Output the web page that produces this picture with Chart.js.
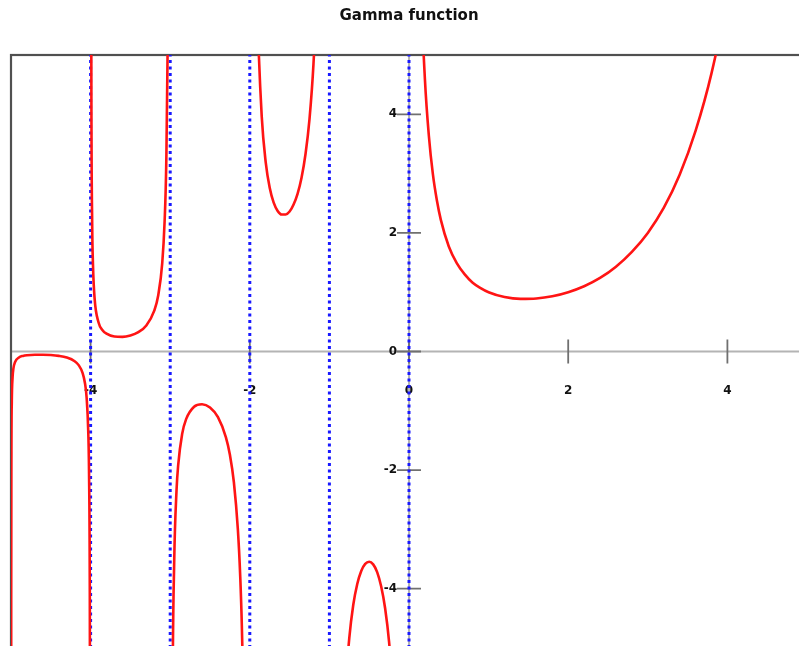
<!DOCTYPE html>
<html>
<head>
<meta charset="utf-8">
<title>Gamma function</title>
<script src="https://cdn.jsdelivr.net/npm/chart.js@4.4.1/dist/chart.umd.min.js"></script>
<style>
  html, body { margin: 0; padding: 0; background: #fff; overflow: hidden; }
  #wrap { position: absolute; left: 0; top: 0; width: 807px; height: 648px; }
</style>
</head>
<body>
<div id="wrap"><canvas id="gammaChart"></canvas></div>
<script>
// values, one array per branch between the poles
const branchA = [[-4.999, -8.3], [-4.998, -4.2], [-4.995, -1.69], [-4.99, -0.85], [-4.98, -0.43], [-4.97, -0.29],
  [-4.95, -0.18], [-4.9, -0.10], [-4.85, -0.074], [-4.8, -0.062], [-4.7, -0.054], [-4.6, -0.054], [-4.5, -0.060],
  [-4.4, -0.074], [-4.3, -0.102], [-4.2, -0.164], [-4.15, -0.23], [-4.1, -0.364], [-4.07, -0.54], [-4.05, -0.776],
  [-4.03, -1.33], [-4.02, -2.02], [-4.01, -4.1], [-4.005, -8.2]];
const branchB = [[-3.995, 8.4], [-3.99, 4.23], [-3.98, 2.15], [-3.97, 1.46], [-3.95, 0.90], [-3.9, 0.49],
  [-3.85, 0.36], [-3.8, 0.30], [-3.7, 0.252], [-3.6, 0.247], [-3.5, 0.270], [-3.4, 0.326], [-3.3, 0.439],
  [-3.2, 0.689], [-3.15, 0.95], [-3.1, 1.49], [-3.07, 2.2], [-3.05, 3.14], [-3.03, 5.36], [-3.02, 8.13]];
const branchC = [[-2.985, -11.3], [-2.97, -5.78], [-2.95, -3.56], [-2.92, -2.33], [-2.9, -1.92], [-2.85, -1.39],
  [-2.8, -1.14], [-2.7, -0.931], [-2.6, -0.889], [-2.5, -0.945], [-2.4, -1.108], [-2.3, -1.447], [-2.25, -1.74],
  [-2.2, -2.205], [-2.15, -3.0], [-2.12, -3.8], [-2.1, -4.63], [-2.07, -6.75], [-2.05, -9.58]];
const branchD = [[-1.98, 25.5], [-1.97, 17.2], [-1.95, 10.5], [-1.92, 6.79], [-1.9, 5.56], [-1.85, 3.96],
  [-1.8, 3.19], [-1.75, 2.76], [-1.7, 2.51], [-1.65, 2.37], [-1.6, 2.31], [-1.55, 2.31], [-1.5, 2.36],
  [-1.45, 2.48], [-1.4, 2.66], [-1.35, 2.93], [-1.3, 3.33], [-1.25, 3.92], [-1.2, 4.85], [-1.15, 6.45], [-1.1, 9.7]];
const branchE = [[-0.97, -33], [-0.95, -20.5], [-0.9, -10.57], [-0.85, -7.32], [-0.8, -5.74], [-0.75, -4.83],
  [-0.7, -4.27], [-0.65, -3.92], [-0.6, -3.70], [-0.55, -3.58], [-0.5, -3.545], [-0.45, -3.59], [-0.4, -3.72],
  [-0.35, -3.96], [-0.3, -4.33], [-0.25, -4.90], [-0.2, -5.82], [-0.15, -7.42], [-0.1, -10.69], [-0.05, -20.6]];
const branchF = [[0.03, 32.8], [0.05, 19.47], [0.1, 9.51], [0.15, 6.22], [0.2, 4.59], [0.25, 3.63], [0.3, 2.99],
  [0.35, 2.55], [0.4, 2.22], [0.5, 1.77], [0.6, 1.49], [0.7, 1.30], [0.8, 1.16], [0.9, 1.07], [1.0, 1.0],
  [1.2, 0.918], [1.4, 0.887], [1.6, 0.894], [1.8, 0.931], [2.0, 1.0], [2.2, 1.10], [2.4, 1.24], [2.6, 1.43],
  [2.8, 1.68], [3.0, 2.0], [3.2, 2.42], [3.4, 2.98], [3.6, 3.72], [3.8, 4.69], [4.0, 6.0], [4.2, 7.76]];

const poles = [-4, -3, -2, -1, 0];
const xTicks = [-4, -2, 0, 2, 4];
const yTicks = [-4, -2, 0, 2, 4];
const xRange = [-5, 5];
const yRange = [-5, 5];

const labelFont = 'bold 12px "DejaVu Sans", sans-serif';

// axes cross at the origin, ticks straddle the axis lines
const originAxes = {
    id: 'originAxes',
    beforeDatasetsDraw(chart) {
        const { ctx, chartArea: a, scales: { x, y } } = chart;
        const x0 = x.getPixelForValue(0);
        const y0 = y.getPixelForValue(0);
        ctx.save();

        ctx.strokeStyle = '#b4b4b4';
        ctx.lineWidth = 2;
        ctx.beginPath();
        ctx.moveTo(a.left, y0); ctx.lineTo(a.right, y0);
        ctx.moveTo(x0, a.top); ctx.lineTo(x0, a.bottom);
        ctx.stroke();

        ctx.strokeStyle = '#707070';
        ctx.lineWidth = 1.8;
        ctx.beginPath();
        xTicks.forEach(t => {
            const px = x.getPixelForValue(t);
            ctx.moveTo(px, y0 - 12); ctx.lineTo(px, y0 + 12);
        });
        yTicks.forEach(t => {
            const py = y.getPixelForValue(t);
            ctx.moveTo(x0 - 12, py); ctx.lineTo(x0 + 12, py);
        });
        ctx.stroke();

        ctx.fillStyle = '#111';
        ctx.font = labelFont;
        ctx.textBaseline = 'middle';
        ctx.textAlign = 'center';
        xTicks.forEach(t => ctx.fillText(String(t), x.getPixelForValue(t), y0 + 39));
        ctx.textAlign = 'right';
        yTicks.forEach(t => ctx.fillText(String(t), x0 - 12, y.getPixelForValue(t)));

        ctx.strokeStyle = '#505050';
        ctx.lineWidth = 2.2;
        ctx.strokeRect(a.left, a.top, a.right - a.left, a.bottom - a.top);

        ctx.font = 'bold 15px "DejaVu Sans", sans-serif';
        ctx.textAlign = 'center';
        ctx.textBaseline = 'middle';
        ctx.fillText('Gamma function', (a.left + a.right) / 2, 16);
        ctx.restore();
    }
};

const curveSets = [branchA, branchB, branchC, branchD, branchE, branchF].map(b => ({
    data: b.map(([px, py]) => ({ x: px, y: py })),
    borderColor: 'rgb(255, 20, 20)',
    borderWidth: 2.6,
    pointRadius: 0,
    cubicInterpolationMode: 'monotone',
    showLine: true,
    fill: false
}));

const poleSets = poles.map(p => ({
    data: [{ x: p, y: yRange[0] }, { x: p, y: yRange[1] }],
    borderColor: 'rgb(25, 25, 255)',
    borderWidth: 3,
    borderDash: [3, 3.5],
    pointRadius: 0,
    showLine: true,
    fill: false
}));

new Chart(document.getElementById('gammaChart'), {
    type: 'scatter',
    data: { datasets: curveSets.concat(poleSets) },
    options: {
        responsive: true,
        maintainAspectRatio: false,
        animation: false,
        devicePixelRatio: 1,
        events: [],
        layout: { padding: { left: 11, top: 55, right: 0, bottom: 0 } },
        scales: {
            x: { type: 'linear', min: xRange[0], max: xRange[1], display: false },
            y: { type: 'linear', min: yRange[0], max: yRange[1], display: false }
        },
        plugins: { legend: { display: false }, tooltip: { enabled: false } }
    },
    plugins: [originAxes]
});
</script>
</body>
</html>
